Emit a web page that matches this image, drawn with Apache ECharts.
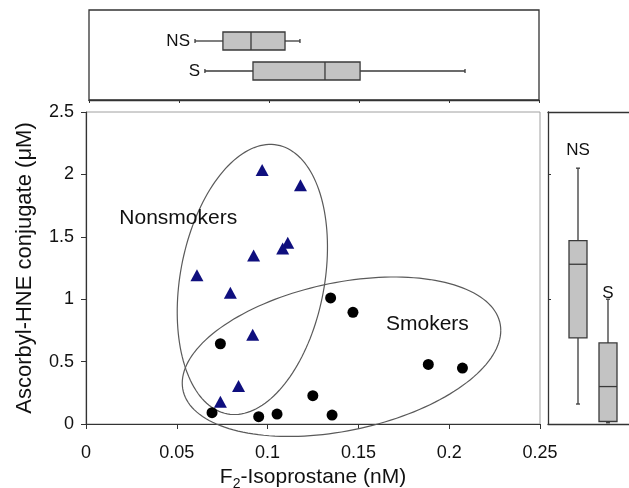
<!DOCTYPE html>
<html>
<head>
<meta charset="utf-8">
<script src="https://cdn.jsdelivr.net/npm/echarts@6/dist/echarts.min.js"></script>
<style>
html,body{margin:0;padding:0;background:#fff;}
#chart{width:629px;height:488px;}
</style>
</head>
<body>
<div id="chart"></div>
<script>
// ---- data ----
// Nonsmokers: [F2-isoprostane (nM), ascorbyl-HNE (uM)]
const nonsmokers = [
  [0.0970, 2.036], [0.1181, 1.913], [0.1111, 1.453], [0.1083, 1.407],
  [0.0923, 1.350], [0.0611, 1.192], [0.0795, 1.051], [0.0918, 0.715],
  [0.0840, 0.305], [0.0740, 0.179]
];
// Smokers
const smokers = [
  [0.1347, 1.010], [0.1470, 0.895], [0.0740, 0.643], [0.0694, 0.091],
  [0.0951, 0.059], [0.1052, 0.080], [0.1249, 0.227], [0.1355, 0.072],
  [0.1885, 0.477], [0.2073, 0.448]
];
// group ellipses (data units): centre, and two conjugate semi-axis vectors
const ellipseNonsmokers = { c: [0.0916, 1.158], u: [0.0138, 1.077], v: [0.0390, -0.106] };
const ellipseSmokers    = { c: [0.1407, 0.539], u: [0.0877, 0.211], v: [0.0000, -0.603] };

// box plots [min, Q1, median, Q3, max]
const boxGroups = ['NS', 'S'];
const isoBoxNS = [0.0589, 0.0744, 0.0900, 0.1089, 0.1172];
const isoBoxS  = [0.0644, 0.0911, 0.1311, 0.1506, 0.2089];
const hneBoxNS = [0.16, 0.69, 1.28, 1.47, 2.05];
const hneBoxS  = [0.01, 0.02, 0.30, 0.65, 1.00];

// axis ticks
const xTicks = [0, 0.05, 0.1, 0.15, 0.2, 0.25];
const yTicks = [0, 0.5, 1, 1.5, 2, 2.5];

// ---- chart ----
const FONT = 'Liberation Sans, Arial, Helvetica, sans-serif';
const INK = '#111';
const chart = echarts.init(document.getElementById('chart'), null, { renderer: 'canvas' });

function ellipseRender(list) {
  return function (params, api) {
    const e = list[params.dataIndex];
    const pts = [];
    const N = 160;
    for (let i = 0; i <= N; i++) {
      const t = (i / N) * Math.PI * 2;
      const x = e.c[0] + e.u[0] * Math.cos(t) + e.v[0] * Math.sin(t);
      const y = e.c[1] + e.u[1] * Math.cos(t) + e.v[1] * Math.sin(t);
      pts.push(api.coord([x, y]));
    }
    return { type: 'polyline', shape: { points: pts }, style: { stroke: '#5a5a5a', lineWidth: 1.2, fill: null } };
  };
}

function boxRender(horizontal) {
  return function (params, api) {
    const cat = api.value(5);
    const v = [0, 1, 2, 3, 4].map(i => api.value(i));
    const P = horizontal ? v.map(val => api.coord([val, cat])) : v.map(val => api.coord([cat, val]));
    const hw = 9, cap = 2;
    const st = { stroke: '#3a3a3a', lineWidth: 1.3 };
    const children = [];
    if (horizontal) {
      const y = P[0][1];
      children.push({ type: 'line', shape: { x1: P[0][0], y1: y, x2: P[1][0], y2: y }, style: st });
      children.push({ type: 'line', shape: { x1: P[3][0], y1: y, x2: P[4][0], y2: y }, style: st });
      children.push({ type: 'line', shape: { x1: P[0][0], y1: y - cap, x2: P[0][0], y2: y + cap }, style: st });
      children.push({ type: 'line', shape: { x1: P[4][0], y1: y - cap, x2: P[4][0], y2: y + cap }, style: st });
      children.push({ type: 'rect', shape: { x: P[1][0], y: y - hw, width: P[3][0] - P[1][0], height: 2 * hw }, style: { fill: '#c3c3c3', stroke: '#3a3a3a', lineWidth: 1.3 } });
      children.push({ type: 'line', shape: { x1: P[2][0], y1: y - hw, x2: P[2][0], y2: y + hw }, style: st });
    } else {
      const x = P[0][0];
      children.push({ type: 'line', shape: { x1: x, y1: P[0][1], x2: x, y2: P[1][1] }, style: st });
      children.push({ type: 'line', shape: { x1: x, y1: P[3][1], x2: x, y2: P[4][1] }, style: st });
      children.push({ type: 'line', shape: { x1: x - cap, y1: P[0][1], x2: x + cap, y2: P[0][1] }, style: st });
      children.push({ type: 'line', shape: { x1: x - cap, y1: P[4][1], x2: x + cap, y2: P[4][1] }, style: st });
      children.push({ type: 'rect', shape: { x: x - hw, y: P[3][1], width: 2 * hw, height: P[1][1] - P[3][1] }, style: { fill: '#c3c3c3', stroke: '#3a3a3a', lineWidth: 1.3 } });
      children.push({ type: 'line', shape: { x1: x - hw, y1: P[2][1], x2: x + hw, y2: P[2][1] }, style: st });
    }
    return { type: 'group', children: children };
  };
}

const hidden = { show: false };
const frameLine = { show: true, lineStyle: { color: '#333', width: 1.3 } };
const textLabelSeries = { type: 'scatter', silent: true, symbolSize: 0, itemStyle: { opacity: 1 } };
const option = {
  backgroundColor: '#fff',
  animation: false,
  textStyle: { fontFamily: FONT },
  grid: [
    { left: 86, top: 112, width: 454, height: 312, show: true, borderColor: '#a0a0a0', borderWidth: 1, outerBoundsMode: 'none', containLabel: false }, // 0 main
    { left: 89, top: 10, width: 450, height: 90, show: true, borderColor: '#333', borderWidth: 1.3, outerBoundsMode: 'none' },   // 1 top frame
    { left: 89, top: 26, width: 450, height: 60, outerBoundsMode: 'none' },                                                     // 2 top boxes
    { left: 548, top: 112, width: 100, height: 312, outerBoundsMode: 'none' },                                                  // 3 right frame
    { left: 563, top: 112, width: 60, height: 312, outerBoundsMode: 'none' }                                                    // 4 right boxes
  ],
  xAxis: [
    {
      gridIndex: 0, type: 'value', min: xTicks[0], max: xTicks[xTicks.length - 1], interval: 0.05,
      splitLine: hidden,
      axisLine: { lineStyle: { color: '#333', width: 1.2 } },
      axisTick: { show: true, inside: false, length: 5, lineStyle: { color: '#333' } },
      axisLabel: { color: INK, fontSize: 18, fontFamily: FONT, margin: 20, formatter: v => String(+v.toFixed(2)) },
      name: '{a|F}{s|2}{a|-Isoprostane (nM)}', nameLocation: 'middle', nameGap: 42,
      nameTextStyle: {
        fontFamily: FONT, color: INK,
        rich: {
          a: { fontSize: 21, fontFamily: FONT, color: INK, verticalAlign: 'top', lineHeight: 22 },
          s: { fontSize: 14, fontFamily: FONT, color: INK, verticalAlign: 'top', lineHeight: 14, padding: [10, 0, 0, 0] }
        }
      }
    },
    {
      gridIndex: 1, type: 'value', min: 0, max: 0.25, interval: 0.05, position: 'top',
      splitLine: hidden, axisLabel: hidden,
      axisLine: frameLine,
      axisTick: { show: true, inside: true, length: 3, lineStyle: { color: '#333' } }
    },
    { gridIndex: 2, type: 'value', min: 0, max: 0.25, show: false },
    {
      gridIndex: 3, type: 'value', min: 0, max: 1, position: 'bottom',
      splitLine: hidden, axisLabel: hidden, axisTick: hidden, axisLine: frameLine
    },
    { gridIndex: 4, type: 'category', data: boxGroups, show: false },
    {
      gridIndex: 3, type: 'value', min: 0, max: 1, position: 'top',
      splitLine: hidden, axisLabel: hidden, axisTick: hidden, axisLine: frameLine
    }
  ],
  yAxis: [
    {
      gridIndex: 0, type: 'value', min: yTicks[0], max: yTicks[yTicks.length - 1], interval: 0.5,
      splitLine: hidden,
      axisLine: { lineStyle: { color: '#333', width: 1.2 } },
      axisTick: { show: true, inside: false, length: 5, lineStyle: { color: '#333' } },
      axisLabel: { color: INK, fontSize: 18, fontFamily: FONT, margin: 12 },
      name: 'Ascorbyl-HNE conjugate (μM)', nameLocation: 'middle', nameGap: 50,
      nameTextStyle: { fontSize: 22, fontFamily: FONT, color: INK }
    },
    { gridIndex: 1, type: 'value', min: 0, max: 1, show: false },
    { gridIndex: 2, type: 'category', data: boxGroups.slice().reverse(), show: false },
    {
      gridIndex: 3, type: 'value', min: 0, max: 2.5, interval: 1,
      splitLine: hidden, axisLabel: hidden,
      axisLine: frameLine,
      axisTick: { show: true, inside: true, length: 3, lineStyle: { color: '#333' } }
    },
    { gridIndex: 4, type: 'value', min: 0, max: 2.5, show: false }
  ],
  series: [
    {
      type: 'custom', name: 'ellipses', xAxisIndex: 0, yAxisIndex: 0, silent: true,
      data: [[0], [1]], encode: { x: -1, y: -1 },
      renderItem: ellipseRender([ellipseNonsmokers, ellipseSmokers]), z: 1
    },
    {
      type: 'scatter', name: 'Nonsmokers', xAxisIndex: 0, yAxisIndex: 0,
      symbol: 'triangle', symbolSize: [13, 12], data: nonsmokers,
      itemStyle: { color: '#0f0f7e', opacity: 1 }, z: 3
    },
    {
      type: 'scatter', name: 'Smokers', xAxisIndex: 0, yAxisIndex: 0,
      symbol: 'circle', symbolSize: 11, data: smokers,
      itemStyle: { color: '#000', opacity: 1 }, z: 3
    },
    Object.assign({}, textLabelSeries, {
      name: 'group labels', xAxisIndex: 0, yAxisIndex: 0,
      data: [
        { value: [0.0508, 1.65], name: 'Nonsmokers' },
        { value: [0.188, 0.80], name: 'Smokers' }
      ],
      label: { show: true, position: 'inside', formatter: p => p.name, fontSize: 21, fontFamily: FONT, color: INK }
    }),
    {
      type: 'custom', name: 'iso box', xAxisIndex: 2, yAxisIndex: 2,
      data: [isoBoxNS.concat([1]), isoBoxS.concat([0])],
      encode: { x: [0, 1, 2, 3, 4], y: 5 },
      renderItem: boxRender(true)
    },
    Object.assign({}, textLabelSeries, {
      name: 'iso box labels', xAxisIndex: 2, yAxisIndex: 2,
      data: [
        { value: [0.0561, 1], name: 'NS' },
        { value: [0.0617, 0], name: 'S' }
      ],
      label: { show: true, position: 'left', distance: 0, formatter: p => p.name, fontSize: 17, fontFamily: FONT, color: INK }
    }),
    {
      type: 'custom', name: 'hne box', xAxisIndex: 4, yAxisIndex: 4,
      data: [hneBoxNS.concat([0]), hneBoxS.concat([1])],
      encode: { x: 5, y: [0, 1, 2, 3, 4] },
      renderItem: boxRender(false)
    },
    Object.assign({}, textLabelSeries, {
      name: 'hne box labels', xAxisIndex: 4, yAxisIndex: 4,
      data: [
        { value: [0, 2.19], name: 'NS' },
        { value: [1, 1.05], name: 'S' }
      ],
      label: { show: true, position: 'inside', formatter: p => p.name, fontSize: 17, fontFamily: FONT, color: INK }
    })
  ]
};
chart.setOption(option);
</script>
</body>
</html>
